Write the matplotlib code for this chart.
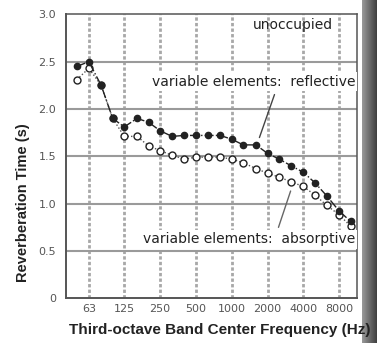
import numpy as np
import matplotlib
matplotlib.use("Agg")
import matplotlib.pyplot as plt

# third-octave band centres (Hz) and measured reverberation times (s)
freqs = [50, 63, 80, 100, 125, 160, 200, 250, 315, 400, 500, 630, 800,
         1000, 1250, 1600, 2000, 2500, 3150, 4000, 5000, 6300, 8000, 10000]
rt_reflective = [2.45, 2.50, 2.25, 1.90, 1.81, 1.90, 1.86, 1.77, 1.71, 1.72, 1.72, 1.72,
                 1.72, 1.68, 1.62, 1.62, 1.53, 1.47, 1.40, 1.33, 1.22, 1.08, 0.92, 0.81]
rt_absorptive = [2.31, 2.43, 2.25, 1.90, 1.71, 1.71, 1.61, 1.56, 1.51, 1.47, 1.49, 1.49,
                 1.49, 1.47, 1.43, 1.37, 1.32, 1.28, 1.23, 1.18, 1.09, 0.98, 0.88, 0.76]

octave_bands = [63, 125, 250, 500, 1000, 2000, 4000, 8000]
octave_labels = ["63", "125", "250", "500", "1000", "2000", "4000", "8000"]
rt_ticks = [0, 0.5, 1.0, 1.5, 2.0, 2.5, 3.0]
rt_labels = ["0", "0.5", "1.0", "1.5", "2.0", "2.5", "3.0"]

ink = "#222222"
grid_col = "#9a9a9a"

fig = plt.figure(figsize=(3.77, 3.43), dpi=100)
ax = fig.add_axes([0.175, 0.131, 0.772, 0.827])

ax.set_xscale("log")
ax.set_xlim(40.5, 11300)
ax.set_ylim(0, 3.0)

# graph-paper style grid
for f in octave_bands:
    ax.axvline(f, color="#a8a8a8", lw=2.0, ls=(0, (1.2, 0.8)), zorder=1)
for r in rt_ticks[1:-1]:
    ax.axhline(r, color=grid_col, lw=1.5, zorder=1)

ax.plot(freqs, rt_absorptive, ls=(0, (1, 1.5)), color="#555555", lw=1.0,
        marker="o", ms=5, mfc="white", mec=ink, mew=1.0, zorder=3)
ax.plot(freqs, rt_reflective, ls="-.", color=ink, lw=1.0,
        marker="o", ms=4.5, mfc=ink, mec=ink, zorder=4)

ax.set_xticks(octave_bands)
ax.set_xticklabels(octave_labels)
ax.xaxis.set_minor_locator(matplotlib.ticker.NullLocator())
ax.set_yticks(rt_ticks)
ax.set_yticklabels(rt_labels)
ax.tick_params(axis="both", length=0, labelsize=8, labelcolor="#555555")
ax.tick_params(axis="y", pad=7)
ax.tick_params(axis="x", pad=4)

for side, sp in ax.spines.items():
    sp.set_color("#555555")
    sp.set_linewidth(1.4 if side in ("left", "bottom") else 1.1)

lbl = dict(fontsize=10, color=ink, zorder=5)
box = dict(facecolor="white", edgecolor="none", pad=1.5)

ax.text(7130, 2.89, "unoccupied", ha="right", va="center", **lbl)
ax.text(10900, 2.29, "variable elements:  reflective", ha="right", va="center",
        bbox=box, **lbl)
ax.text(10900, 0.62, "variable elements:  absorptive", ha="right", va="center",
        bbox=box, **lbl)

# leader lines from the labels to the curves
ax.annotate("", xy=(1680, 1.67), xytext=(2330, 2.18),
            arrowprops=dict(arrowstyle="-", color="#444444", lw=1.0), zorder=5)
ax.annotate("", xy=(3180, 1.16), xytext=(2430, 0.72),
            arrowprops=dict(arrowstyle="-", color="#666666", lw=1.0), zorder=5)

fig.text(0.061, 0.408, "Reverberation Time (s)", fontsize=10.5, fontweight="bold",
         family="Liberation Sans", color=ink, rotation=90, ha="center", va="center")
fig.text(0.183, 0.038, "Third-octave Band Center Frequency (Hz)", fontsize=11,
         fontweight="bold", family="Liberation Sans", color=ink, ha="left", va="center")

# shadow along the right edge of the page
edge = fig.add_axes([362 / 377, 0, 15 / 377, 1], zorder=0)
edge.imshow(np.linspace(0.6, 0.25, 32)[None, :], cmap="gray", vmin=0, vmax=1,
            aspect="auto", extent=(0, 1, 0, 1))
edge.axis("off")

fig.savefig("out.png", dpi=100)
